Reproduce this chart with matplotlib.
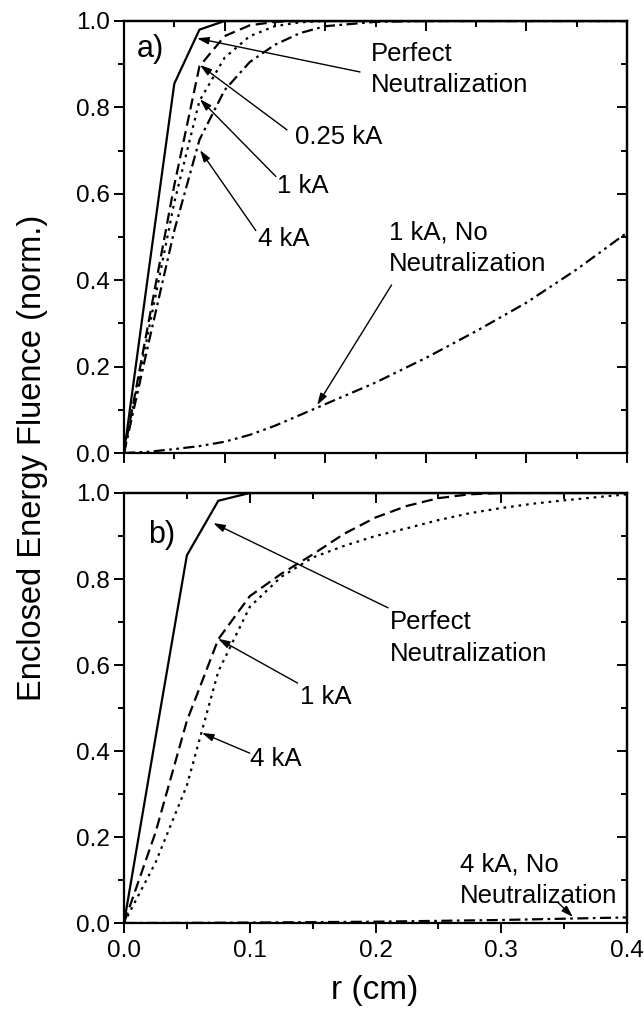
import matplotlib
matplotlib.use("Agg")
import matplotlib.pyplot as plt
from matplotlib.ticker import MultipleLocator, FormatStrFormatter

plt.rcParams['font.family'] = ['Liberation Sans', 'DejaVu Sans']

# ---------------- data: panel a ----------------
r_a = [0, 0.025, 0.05, 0.075, 0.1, 0.125, 0.15, 0.175, 0.2, 0.25, 0.3, 0.35, 0.4, 0.45, 0.5]
perfect_a = [0, 0.43, 0.855, 0.98, 1.0, 1.0, 1.0, 1.0, 1.0, 1.0, 1.0, 1.0, 1.0, 1.0, 1.0]
ka025_a = [0, 0.31, 0.62, 0.895, 0.965, 0.99, 0.998, 1.0, 1.0, 1.0, 1.0, 1.0, 1.0, 1.0, 1.0]
ka1_a = [0, 0.29, 0.58, 0.815, 0.915, 0.965, 0.988, 0.997, 1.0, 1.0, 1.0, 1.0, 1.0, 1.0, 1.0]
ka4_a = [0, 0.26, 0.515, 0.725, 0.84, 0.905, 0.945, 0.972, 0.988, 0.998, 1.0, 1.0, 1.0, 1.0, 1.0]
r_noneut_a = [0, 0.025, 0.05, 0.075, 0.1, 0.125, 0.15, 0.2, 0.25, 0.3, 0.35, 0.4, 0.45, 0.5]
noneut_a = [0, 0.003, 0.009, 0.016, 0.026, 0.042, 0.063, 0.113, 0.163, 0.22, 0.282, 0.348, 0.425, 0.51]

# ---------------- data: panel b ----------------
r_b = [0, 0.025, 0.05, 0.075, 0.1, 0.125, 0.15, 0.175, 0.2, 0.225, 0.25, 0.275, 0.3,
       0.325, 0.35, 0.375, 0.4]
perfect_b = [0, 0.43, 0.855, 0.982, 1.0, 1.0, 1.0, 1.0, 1.0, 1.0, 1.0, 1.0, 1.0, 1.0, 1.0, 1.0, 1.0]
ka1_b = [0, 0.21, 0.47, 0.66, 0.76, 0.812, 0.857, 0.905, 0.943, 0.97, 0.988, 0.997, 1.0,
         1.0, 1.0, 1.0, 1.0]
ka4_b = [0, 0.14, 0.32, 0.585, 0.735, 0.805, 0.85, 0.877, 0.9, 0.918, 0.937, 0.953, 0.965,
         0.975, 0.983, 0.99, 0.997]
r_noneut_b = [0, 0.05, 0.1, 0.15, 0.2, 0.25, 0.3, 0.35, 0.4]
noneut_b = [0, 0.0003, 0.001, 0.002, 0.003, 0.005, 0.007, 0.010, 0.013]

# ---------------- annotations ----------------
# (text, text_x, text_y, arrow_tail_x, arrow_tail_y, arrow_tip_x, arrow_tip_y)
ann_a = [
    ("Perfect\nNeutralization", 0.245, 0.888, 0.2346, 0.882, 0.0726, 0.96),
    ("0.25 kA", 0.170, 0.731, 0.162, 0.748, 0.0755, 0.898),
    ("1 kA", 0.152, 0.618, 0.151, 0.640, 0.0755, 0.819),
    ("4 kA", 0.133, 0.495, 0.131, 0.515, 0.0755, 0.701),
    ("1 kA, No\nNeutralization", 0.263, 0.4745, 0.266, 0.389, 0.192, 0.111),
]
ann_b = [
    ("Perfect\nNeutralization", 0.2115, 0.663, 0.21, 0.733, 0.071, 0.93),
    ("1 kA", 0.140, 0.526, 0.138, 0.558, 0.0748, 0.661),
    ("4 kA", 0.100, 0.381, 0.100, 0.395, 0.062, 0.442),
    ("4 kA, No\nNeutralization", 0.267, 0.100, 0.345, 0.048, 0.357, 0.014),
]
panel_labels = ["a)", "b)"]
panel_label_pos = [(0.026, 0.935), (0.030, 0.902)]

W, H = 644, 1017
fig = plt.figure(figsize=(W / 100, H / 100), dpi=100)
ax1 = fig.add_axes([124 / W, (H - 453) / H, 503 / W, 432 / H])
ax2 = fig.add_axes([124 / W, (H - 923) / H, 503 / W, 430 / H])

lw = 1.6
styles = {
    'solid': dict(ls='-', lw=lw, color='k'),
    'dash': dict(ls=(0, (5, 2.5)), lw=lw, color='k'),
    'dot': dict(ls=(0, (1.2, 2.2)), lw=lw, color='k'),
    'dashdot': dict(ls=(0, (5, 2, 1.2, 2)), lw=lw, color='k'),
    'dashdotdot': dict(ls=(0, (5, 2, 1.2, 2, 1.2, 2)), lw=lw, color='k'),
}

ax1.plot(r_a, perfect_a, **styles['solid'])
ax1.plot(r_a, ka025_a, **styles['dash'])
ax1.plot(r_a, ka1_a, **styles['dot'])
ax1.plot(r_a, ka4_a, **styles['dashdot'])
ax1.plot(r_noneut_a, noneut_a, **styles['dashdotdot'])

ax2.plot(r_b, perfect_b, **styles['solid'])
ax2.plot(r_b, ka1_b, **styles['dash'])
ax2.plot(r_b, ka4_b, **styles['dot'])
ax2.plot(r_noneut_b, noneut_b, **styles['dashdot'])

fs = 18.5
for ax, anns, lab, lpos, xmax in ((ax1, ann_a, panel_labels[0], panel_label_pos[0], 0.5),
                                  (ax2, ann_b, panel_labels[1], panel_label_pos[1], 0.4)):
    ax.set_xlim(0, xmax)
    ax.set_ylim(0, 1.0)
    for txt, tx, ty, t0x, t0y, t1x, t1y in anns:
        ax.text(tx, ty, txt, fontsize=fs, ha='left', va='center', linespacing=1.4)
        ax.annotate('', xy=(t1x, t1y), xytext=(t0x, t0y),
                    arrowprops=dict(arrowstyle='-|>,head_length=0.7,head_width=0.22',
                                    lw=1.0, color='k', shrinkA=0, shrinkB=0))
    ax.text(lpos[0], lpos[1], lab, fontsize=22, ha='center', va='center')
    for sp in ax.spines.values():
        sp.set_linewidth(1.6)
    ax.xaxis.set_major_locator(MultipleLocator(0.1))
    ax.xaxis.set_minor_locator(MultipleLocator(0.05))
    ax.yaxis.set_major_locator(MultipleLocator(0.2))
    ax.yaxis.set_minor_locator(MultipleLocator(0.1))
    ax.tick_params(which='both', direction='out', top=False, right=False, width=1.4)
    ax.tick_params(which='major', length=7)
    ax.tick_params(which='minor', length=4)
    ax.tick_params(axis='both', labelsize=17.5)
    ax.yaxis.set_major_formatter(FormatStrFormatter('%.1f'))
    ax.xaxis.set_major_formatter(FormatStrFormatter('%.1f'))
    ax.tick_params(axis='y', pad=3)
    ax.tick_params(axis='x', pad=5)
    # mirrored ticks pointing inward on top/right
    sx = ax.secondary_xaxis('top')
    sx.xaxis.set_major_locator(MultipleLocator(0.1))
    sx.xaxis.set_minor_locator(MultipleLocator(0.05))
    sx.tick_params(which='both', direction='in', labeltop=False, width=1.4)
    sx.tick_params(which='major', length=7)
    sx.tick_params(which='minor', length=4)
    sx.spines['top'].set_linewidth(1.6)
    sy = ax.secondary_yaxis('right')
    sy.yaxis.set_major_locator(MultipleLocator(0.2))
    sy.yaxis.set_minor_locator(MultipleLocator(0.1))
    sy.tick_params(which='both', direction='in', labelright=False, width=1.4)
    sy.tick_params(which='major', length=7)
    sy.tick_params(which='minor', length=4)
    sy.spines['right'].set_linewidth(1.6)

ax1.tick_params(axis='x', labelbottom=False)

fig.text(33 / W, (H - 458) / H, "Enclosed Energy Fluence (norm.)", rotation=90,
         fontsize=23.5, ha='center', va='center')
fig.text(375 / W, (H - 990) / H, "r (cm)", fontsize=24, ha='center', va='center')

fig.savefig("out.png", dpi=100)
